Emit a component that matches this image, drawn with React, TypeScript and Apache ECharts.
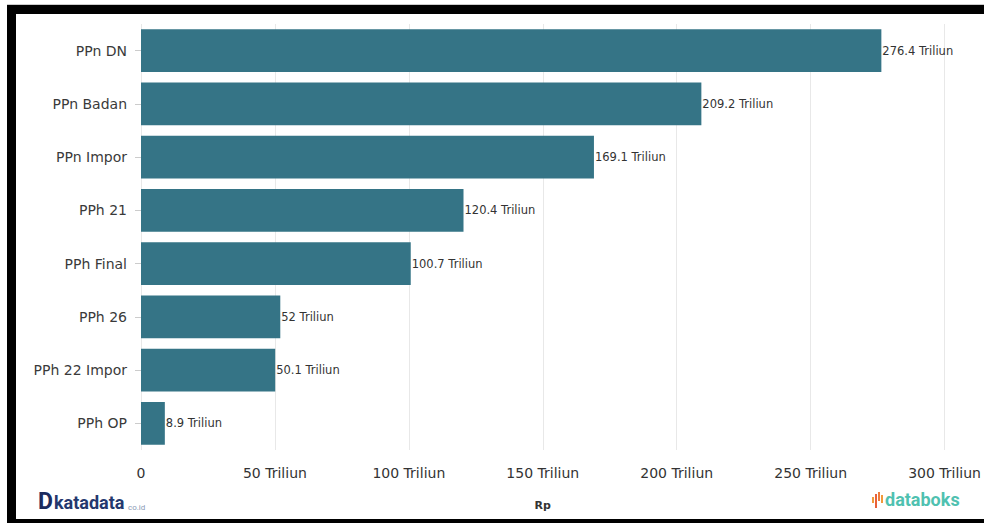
import React, { useEffect, useRef } from "react";
import * as echarts from "echarts";

const categories = ["PPn DN", "PPn Badan", "PPn Impor", "PPh 21", "PPh Final", "PPh 26", "PPh 22 Impor", "PPh OP"];
const values = [276.4, 209.2, 169.1, 120.4, 100.7, 52, 50.1, 8.9];
const xTicks = [0, 50, 100, 150, 200, 250, 300];

export default function App() {
  const ref = useRef<HTMLDivElement>(null);
  useEffect(() => {
    document.body.style.margin = "0";
    const chart = echarts.init(ref.current!, null, { renderer: "svg" });
    const font = "DejaVu Sans, Verdana, sans-serif";
    chart.setOption({
      animation: false,
      backgroundColor: "#ffffff",
      textStyle: { fontFamily: font },
      grid: { left: 141, right: 39, top: 24, bottom: 73, containLabel: false },
      xAxis: {
        type: "value",
        min: xTicks[0],
        max: xTicks[xTicks.length - 1],
        interval: 50,
        name: "Rp",
        nameLocation: "middle",
        nameGap: 50,
        nameTextStyle: { fontWeight: "bold", fontSize: 11, color: "#333", fontFamily: font },
        axisLine: { show: false },
        axisTick: { show: false },
        axisLabel: {
          fontSize: 14,
          color: "#333",
          margin: 16,
          fontFamily: font,
          formatter: (v: number) => (v === 0 ? "0" : v + " Triliun"),
        },
        splitLine: { show: true, lineStyle: { color: "#e8e8e8", width: 1 } },
      },
      yAxis: {
        type: "category",
        data: categories,
        inverse: true,
        axisLine: { show: false },
        axisTick: { show: true, alignWithLabel: true, length: 6, lineStyle: { color: "#cccccc" } },
        axisLabel: { fontSize: 14, color: "#3a3a3a", margin: 14, fontFamily: font },
        splitLine: { show: false },
      },
      series: [
        {
          type: "bar",
          data: values,
          barCategoryGap: "20%",
          itemStyle: { color: "#357486" },
          label: {
            show: true,
            position: "right",
            distance: 1,
            fontSize: 11.5,
            color: "#333",
            fontFamily: font,
            formatter: (p: any) => p.value + " Triliun",
          },
        },
      ],
      graphic: [
        { type: "rect", shape: { x: 7, y: 4, width: 977, height: 1 }, style: { fill: "#cccccc" } },
        { type: "rect", shape: { x: 7, y: 5, width: 977, height: 9 }, style: { fill: "#000" } },
        { type: "rect", shape: { x: 7, y: 5, width: 9, height: 518 }, style: { fill: "#000" } },
        { type: "rect", shape: { x: 7, y: 519, width: 977, height: 4 }, style: { fill: "#000" } },
        {
          type: "text",
          left: 38,
          top: 490,
          style: { text: "D", fontSize: 23, fontWeight: "bold", fill: "#1b2b5e", fontFamily: "Roboto, sans-serif" },
        },
        {
          type: "text",
          left: 54,
          top: 493,
          style: { text: "katadata", fontSize: 18, fontWeight: "bold", fill: "#24386e", fontFamily: "Roboto, sans-serif" },
        },
        {
          type: "text",
          left: 128,
          top: 503,
          style: { text: "co.id", fontSize: 8, fill: "#8a9ab5", fontFamily: "Roboto, sans-serif" },
        },
        { type: "rect", shape: { x: 872, y: 497, width: 2, height: 6 }, style: { fill: "#f29a3a" } },
        { type: "rect", shape: { x: 875, y: 494, width: 2, height: 14 }, style: { fill: "#e8613a" } },
        { type: "rect", shape: { x: 878, y: 492, width: 2, height: 9 }, style: { fill: "#ef7b3b" } },
        { type: "rect", shape: { x: 881, y: 495, width: 2, height: 8 }, style: { fill: "#f29a3a" } },
        {
          type: "text",
          left: 885,
          top: 490,
          style: { text: "databoks", fontSize: 18, fontWeight: "bold", fill: "#4fc1b0", fontFamily: "Roboto, sans-serif" },
        },
      ],
    });
    return () => chart.dispose();
  }, []);
  return <div ref={ref} style={{ width: 984, height: 523 }} />;
}
